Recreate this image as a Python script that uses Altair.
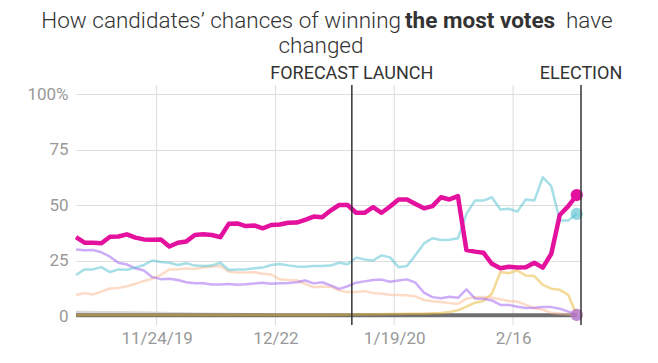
import altair as alt
import pandas as pd

# ---------------- data ----------------
dates = pd.date_range("2019-11-05", "2020-03-02", freq="2D").strftime("%Y-%m-%d").tolist()

sanders = [35.5, 33.0, 33.0, 32.8, 35.7, 35.8, 36.8, 35.3, 34.5, 34.3,
           34.5, 31.3, 33.0, 33.6, 36.5, 36.8, 36.5, 35.5, 41.5, 41.7,
           40.5, 40.8, 39.5, 41.0, 41.2, 42.0, 42.1, 43.3, 44.8, 44.5,
           47.5, 50.0, 50.0, 46.5, 46.5, 49.0, 46.5, 49.3, 52.5, 52.5,
           50.5, 48.5, 49.5, 53.5, 52.5, 54.0, 29.7, 29.0, 28.5, 23.5,
           21.5, 22.2, 21.8, 22.0, 24.0, 21.8, 28.0, 45.5, 49.5, 54.5]
biden = [18.5, 21, 21, 22, 19.8, 21, 20.8, 21.8, 23, 25,
         24.3, 24, 23, 23.8, 22.7, 22.5, 22.7, 24, 20.7, 21,
         21, 21.5, 21.8, 23, 23.4, 22.8, 22.3, 22.2, 22.5, 22.5,
         22.7, 24, 23.3, 26.3, 25.5, 25, 27.3, 26.4, 22, 22.5,
         27.5, 32.7, 35, 34.2, 34.3, 35, 46, 52, 52, 53.5,
         48, 48.3, 47, 52.5, 52, 62.5, 58.5, 43, 43, 46]
warren = [30, 29.6, 29.7, 28.7, 26.7, 24, 23.2, 21.5, 20.5, 17.5,
          16.6, 16.8, 16.2, 15.2, 14.8, 14.8, 14.2, 14.2, 14.4, 14.1,
          14.3, 14.6, 15, 14.5, 14.7, 14.9, 15.2, 16, 14.7, 15.2,
          13.8, 12.2, 13.4, 15, 15.6, 16.2, 16.4, 15.4, 16, 16.5,
          15, 10.5, 8.5, 8, 8.7, 8.2, 12, 7.9, 7.8, 7,
          5, 5, 4.2, 3.6, 3.7, 4, 4, 3.3, 2, 0.5]
buttigieg = [9.5, 10.3, 9.7, 11, 12.4, 12.6, 13.4, 14.5, 15.8, 16.8,
             18.5, 21, 21, 21.4, 21.2, 22, 22.2, 22.5, 20, 19.6,
             19.6, 19.7, 19, 18.7, 16.5, 16.2, 16.1, 14.5, 13, 13.3,
             13.2, 11.5, 10.8, 10.8, 11.2, 10.4, 10, 9.6, 9.5, 9.3,
             8.8, 7.2, 6.6, 6.3, 5.8, 5.4, 7.8, 8.5, 8.6, 8.2,
             7.5, 6.8, 6.5, 5, 3.5, 2.8, 1.5, 1, 0.8, 0.5]
bloomberg = [0.3, 0.4, 0.4, 0.5, 0.5, 0.5, 0.5, 0.5, 0.5, 0.5,
             0.5, 0.5, 0.5, 0.5, 0.5, 0.5, 0.5, 0.5, 0.5, 0.5,
             0.5, 0.5, 0.5, 0.5, 0.5, 0.5, 0.5, 0.5, 0.5, 0.5,
             0.5, 0.6, 0.6, 0.7, 0.7, 0.8, 0.8, 0.9, 0.9, 1.0,
             1.0, 1.0, 1.2, 1.4, 1.8, 2.6, 4.2, 6.0, 6.8, 10.0,
             19.8, 19.3, 20.5, 18.2, 18.0, 14.0, 12.3, 11.8, 9.5, 0.5]

others_dates = ["2019-11-05", "2020-03-02"]
others = [0.3, 0.3]
faded_dates = ["2019-11-05", "2019-11-20", "2019-12-04", "2019-12-20"]
faded = [1.6, 1.4, 0.8, 0.5]

tick_dates = ["2019-11-24", "2019-12-22", "2020-01-19", "2020-02-16"]
event_dates = ["2020-01-09", "2020-03-03"]
event_labels = ["FORECAST LAUNCH", "ELECTION"]

series = [
    ("Faded", faded_dates, faded, "#d9d9d9", 3.5, 1.0),
    ("Others", others_dates, others, "#6f6f6f", 4.0, 1.0),
    ("Bloomberg", dates, bloomberg, "#e8b830", 2.5, 0.5),
    ("Buttigieg", dates, buttigieg, "#fbb98f", 2.5, 0.5),
    ("Warren", dates, warren, "#9b5cf0", 2.5, 0.5),
    ("Biden", dates, biden, "#4dbfcf", 2.5, 0.5),
    ("Sanders", dates, sanders, "#e4119f", 4.5, 1.0),
]

rows = []
for name, ds, vals, *_ in series:
    for d, v in zip(ds, vals):
        rows.append({"date": d, "series": name, "value": v})
df = pd.DataFrame(rows)

W, H = 505, 222


def ms(s):
    return int(pd.Timestamp(s, tz="UTC").value // 10**6)


xscale = alt.Scale(type="utc", domain=[ms("2019-11-05"), ms("2020-03-03")])
yscale = alt.Scale(domain=[0, 100])

x_enc = alt.X(
    "date:T", scale=xscale,
    axis=alt.Axis(
        values=[ms(d) for d in tick_dates],
        labelExpr="utcFormat(datum.value, '%-m/%-d') + ((utcFormat(datum.value, '%m') == '11' || utcFormat(datum.value, '%m') == '01') ? '/' + utcFormat(datum.value, '%y') : '')",
        grid=False, domain=False, ticks=False, labelPadding=14,
        labelFontSize=17, labelColor="#999999", labelFont="Roboto", title=None,
    ),
)
y_enc = alt.Y(
    "value:Q", scale=yscale,
    axis=alt.Axis(
        values=[0, 25, 50, 75, 100],
        labelExpr="datum.value == 100 ? '100%' : datum.label",
        grid=True, gridColor="#dddddd", gridWidth=1, domain=False, ticks=False,
        labelPadding=8, labelFontSize=17, labelColor="#999999", labelFont="Roboto",
        title=None,
    ),
)

layers = []

# vertical gridlines (extend above/below plot)
grid_df = pd.DataFrame({"date": tick_dates})
layers.append(
    alt.Chart(grid_df).mark_rule(color="#dddddd", strokeWidth=1).encode(
        x=alt.X("date:T", scale=xscale), y=alt.value(-9), y2=alt.value(H + 9)
    )
)

for name, ds, vals, color, sw, op in series:
    layers.append(
        alt.Chart(df).transform_filter(alt.datum.series == name)
        .mark_line(color=color, strokeWidth=sw, opacity=op, strokeJoin="round")
        .encode(x=x_enc, y=y_enc)
    )

# end dots
end_df = pd.DataFrame({
    "date": [dates[-1]] * 5,
    "series": ["Bloomberg", "Buttigieg", "Warren", "Biden", "Sanders"],
    "value": [bloomberg[-1], buttigieg[-1], warren[-1], biden[-1], sanders[-1]],
})
dot_colors = {"Bloomberg": "#e8b830", "Buttigieg": "#fbb98f", "Warren": "#9b5cf0",
              "Biden": "#4dbfcf", "Sanders": "#e4119f"}
dot_op = {"Bloomberg": 0.4, "Buttigieg": 0.3, "Warren": 0.6, "Biden": 0.6, "Sanders": 1.0}
for name in ["Bloomberg", "Buttigieg", "Warren", "Biden", "Sanders"]:
    layers.append(
        alt.Chart(end_df).transform_filter(alt.datum.series == name)
        .mark_circle(size=150, color=dot_colors[name], opacity=dot_op[name])
        .encode(x=x_enc, y=y_enc)
    )

# event rules and labels
ev_df = pd.DataFrame({"date": event_dates, "label": event_labels})
layers.append(
    alt.Chart(ev_df).mark_rule(color="#333333", strokeWidth=1.5).encode(
        x=alt.X("date:T", scale=xscale), y=alt.value(-9), y2=alt.value(H + 9)
    )
)
layers.append(
    alt.Chart(ev_df).mark_text(align="center", baseline="alphabetic", fontSize=18,
                               font="Roboto", color="#333333")
    .encode(x=alt.X("date:T", scale=xscale), y=alt.value(-15), text="label:N")
)

# title (mixed weight, built from text marks)
dummy = pd.DataFrame({"a": [0]})
title_parts = [
    ("How candidates\u2019 chances of winning", "right", 300, 325, -66),
    ("the most votes", "left", "bold", 329, -66),
    ("have", "left", 300, 490, -66),
    ("changed", "center", 300, 245, -41),
]
for txt, al, fw, px, py in title_parts:
    layers.append(
        alt.Chart(dummy).mark_text(text=txt, align=al, baseline="alphabetic",
                                   fontSize=22.5, font="Roboto", fontWeight=fw,
                                   color="#333333")
        .encode(x=alt.value(px), y=alt.value(py))
    )

chart = alt.layer(*layers).properties(
    width=W, height=H,
    padding={"left": 68, "top": 86, "right": 60, "bottom": 30},
    autosize=alt.AutoSizeParams(type="none"),
).configure_view(stroke=None)

chart.save("out.html", embed_options={"renderer": "svg", "actions": False})
